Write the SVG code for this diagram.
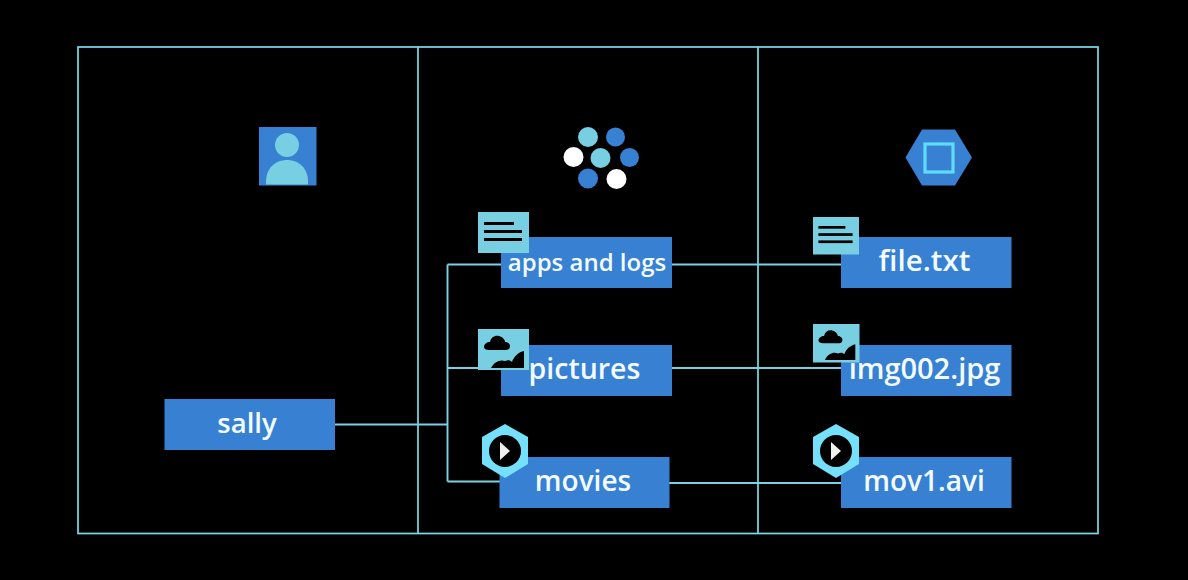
<svg xmlns="http://www.w3.org/2000/svg" width="1188" height="580" viewBox="0 0 1188 580">
<style>
.frame{fill:none;stroke:#78dcea;stroke-width:1.7}
.conn{fill:none;stroke:#78d2e4;stroke-width:1.9}
.box{fill:#3780d2}
.lbl{font-family:"Open Sans","Noto Sans",sans-serif;font-weight:600;fill:#f2fbff;font-size:28px;text-anchor:middle}
.pale{fill:#78cfe2}
.ink{fill:#000}
.hex{fill:#74e0fb}
</style>
<defs>
<g id="doc"><rect class="ink" x="6" y="10" width="30" height="3"/><rect class="ink" x="6" y="18" width="38" height="3"/><rect class="ink" x="6" y="26" width="38" height="3"/></g>
<g id="pic">
<path class="ink" d="M6 18c0-3 3-5 6-5 1-5 5-7 9-6 4 1 6 4 6 6 3 0 5 2 5 4 0 3-2 4-5 4H11c-3 0-5-1-5-3z"/>
<path class="ink" d="M13 39c3-6 9-9 14-7 3-1 5-1 7 1 2-6 7-10 12-11v17z"/>
</g>
<g id="play"><path class="hex" d="M0-27 23-14V13L0 27-23 13V-14z"/><circle class="ink" cx="0" cy="0" r="16"/><path fill="#f0f0f0" d="M-5-9 5 0-5 9z"/></g>
</defs>
<rect width="1188" height="580" fill="#000"/>
<g id="frame">
<rect class="frame" x="78" y="47" width="1020" height="486.500"/>
<path class="frame" d="M418 47V533.500M758 47V533.500"/>
</g>
<g id="connectors">
<path class="conn" d="M335 424.500H447.500M447.500 264.500V481.500M447.500 264.500H502M447.500 368H480M447.500 481.500H500"/>
<path class="conn" d="M671 264.500H842M671 368H842M669 483H842"/>
</g>
<g id="user-icon">
<rect class="box" x="259" y="127" width="57.500" height="58.500"/>
<circle class="pale" cx="287" cy="145" r="12"/>
<path class="pale" d="M266 184.500v-3c0-13 9-21.500 21-21.500s21 8.500 21 21.500v3z"/>
</g>
<g id="cluster-icon">
<circle class="pale" cx="588" cy="137" r="10"/><circle class="box" cx="615.500" cy="137" r="9.500"/>
<circle fill="#fff" cx="573.500" cy="157" r="10"/><circle class="pale" cx="600.500" cy="158" r="10"/><circle class="box" cx="629.500" cy="157.500" r="9.500"/>
<circle class="box" cx="588" cy="178.500" r="10"/><circle fill="#fff" cx="616.500" cy="179" r="10"/>
</g>
<g id="hex-icon">
<path class="box" d="M922 129.500H955L972 157.500 955 185.500H922L905.500 157.500z"/>
<rect x="925" y="144" width="28" height="28" fill="none" stroke="#5fdcfb" stroke-width="3.200"/>
</g>
<g id="sally"><rect class="box" x="164.500" y="399" width="170.500" height="51"/><text class="lbl" x="247" y="433" style="font-size:27.500px">sally</text></g>
<g id="apps-and-logs">
<rect class="box" x="501" y="237" width="171" height="51"/>
<text class="lbl" x="587" y="271" style="font-size:24px">apps and logs</text>
<rect class="pale" x="478" y="212" width="51" height="41"/><use href="#doc" x="478" y="212"/>
</g>
<g id="pictures">
<rect class="box" x="501" y="345" width="171" height="51"/>
<text class="lbl" x="584.500" y="379" style="font-size:28.500px">pictures</text>
<rect class="pale" x="478" y="329" width="51" height="41"/><use href="#pic" x="478" y="329"/>
</g>
<g id="movies">
<rect class="box" x="499.500" y="457" width="170" height="51"/>
<text class="lbl" x="583" y="491">movies</text>
<use href="#play" x="505" y="451"/>
</g>
<g id="file-txt">
<rect class="box" x="841" y="237" width="170.500" height="51"/>
<text class="lbl" x="924.500" y="271" style="font-size:29.500px">file.txt</text>
<rect class="pale" x="813" y="217" width="46" height="37.500"/><use href="#doc" transform="translate(813 217) scale(.9)"/>
</g>
<g id="img002-jpg">
<rect class="box" x="841" y="345" width="170.500" height="51"/>
<text class="lbl" x="924.500" y="379" style="font-size:29px">img002.jpg</text>
<rect class="pale" x="813" y="324" width="46.500" height="38.500"/><use href="#pic" transform="translate(813 324) scale(.92)"/>
</g>
<g id="mov1-avi">
<rect class="box" x="841" y="457" width="170.500" height="51"/>
<text class="lbl" x="924" y="491">mov1.avi</text>
<use href="#play" x="836" y="451"/>
</g>
</svg>
